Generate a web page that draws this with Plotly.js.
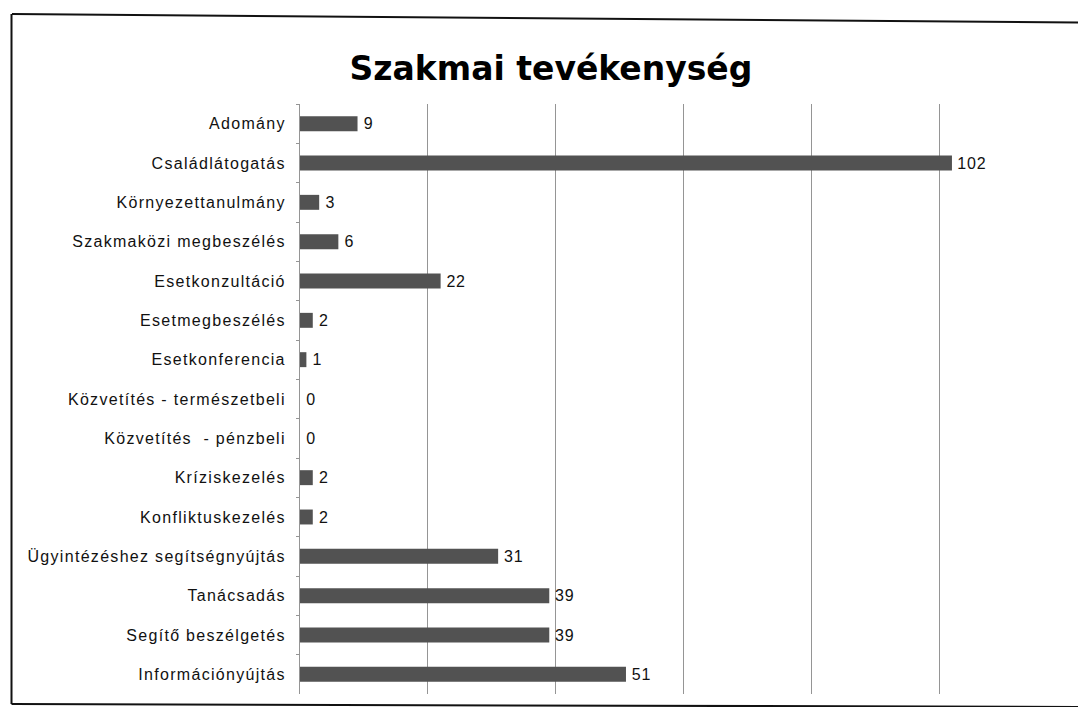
<!DOCTYPE html>
<html>
<head>
<meta charset="utf-8">
<script src="https://cdn.plot.ly/plotly-3.0.1.min.js"></script>
<style>
html,body{margin:0;padding:0;background:#fff;}
#chart{width:1078px;height:707px;}
#chart .ytick text{letter-spacing:1.3px;}
#chart text.bartext{letter-spacing:0.8px;}
</style>
</head>
<body>
<div id="chart"></div>
<script>
const categories = [
  "Adomány",
  "Családlátogatás",
  "Környezettanulmány",
  "Szakmaközi megbeszélés",
  "Esetkonzultáció",
  "Esetmegbeszélés",
  "Esetkonferencia",
  "Közvetítés - természetbeli",
  "Közvetítés  - pénzbeli",
  "Kríziskezelés",
  "Konfliktuskezelés",
  "Ügyintézéshez segítségnyújtás",
  "Tanácsadás",
  "Segítő beszélgetés",
  "Információnyújtás"
];
const values = [9, 102, 3, 6, 22, 2, 1, 0, 0, 2, 2, 31, 39, 39, 51];
const titleText = "Szakmai tevékenység";

const W = 1078, H = 707;
const mL = 300, mR = 11, mT = 104, mB = 13;
const pw = W - mL - mR, ph = H - mT - mB;
function px(x){ return (x - mL) / pw; }
function py(y){ return 1 - (y - mT) / ph; }

const trace = {
  type: 'bar',
  orientation: 'h',
  y: categories,
  x: values,
  text: values.map(v => '\u2009' + v),
  textposition: 'outside',
  constraintext: 'none',
  cliponaxis: false,
  textfont: {family: 'Liberation Sans, Arial, sans-serif', size: 16, color: '#111'},
  marker: {color: '#525252', line: {width: 0}},
  hoverinfo: 'skip'
};

const layout = {
  width: W, height: H,
  margin: {l: mL, r: mR, t: mT, b: mB, pad: 0},
  paper_bgcolor: '#fff',
  plot_bgcolor: '#fff',
  showlegend: false,
  bargap: 0.62,
  title: {
    text: '<b>' + titleText + '</b>',
    x: 551 / W, xref: 'container', xanchor: 'center',
    y: 1 - 68 / H, yref: 'container', yanchor: 'middle',
    font: {family: 'DejaVu Sans, Arial Black, sans-serif', size: 33, color: '#000'}
  },
  xaxis: {
    range: [0, 120],
    dtick: 20,
    tick0: 0,
    showgrid: true,
    gridcolor: '#959595',
    gridwidth: 1,
    showticklabels: false,
    zeroline: false,
    showline: false,
    ticks: '',
    fixedrange: true
  },
  yaxis: {
    autorange: 'reversed',
    type: 'category',
    showline: true,
    linecolor: '#959595',
    linewidth: 1,
    ticks: 'outside',
    tickson: 'boundaries',
    ticklen: 3,
    tickcolor: '#959595',
    ticklabelstandoff: 10,
    tickfont: {family: 'Liberation Sans, Arial, sans-serif', size: 16, color: '#111'},
    showgrid: false,
    fixedrange: true
  },
  shapes: [
    {type: 'line', xref: 'paper', yref: 'paper', x0: px(12), y0: py(14), x1: px(1078), y1: py(22.5), line: {color: '#111', width: 2}},
    {type: 'line', xref: 'paper', yref: 'paper', x0: px(11.5), y0: py(14), x1: px(11.5), y1: py(704), line: {color: '#111', width: 2}},
    {type: 'line', xref: 'paper', yref: 'paper', x0: px(11.5), y0: py(704), x1: px(1078), y1: py(707), line: {color: '#111', width: 2}}
  ]
};

Plotly.newPlot('chart', [trace], layout, {displayModeBar: false, staticPlot: true});
</script>
</body>
</html>
